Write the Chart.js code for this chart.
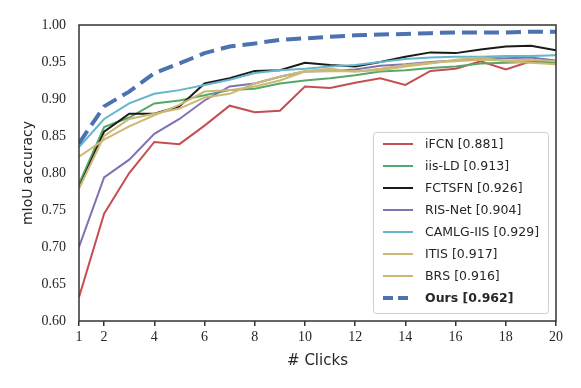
<!DOCTYPE html>
<html>
<head>
<meta charset="utf-8">
<script src="https://cdn.jsdelivr.net/npm/chart.js@4.4.0/dist/chart.umd.min.js"></script>
<style>
  html, body { margin: 0; padding: 0; background: #fff; }
</style>
</head>
<body>
<canvas id="chart" width="581" height="388"></canvas>
<script>
// data
const clicks = [1, 2, 3, 4, 5, 6, 7, 8, 9, 10, 11, 12, 13, 14, 15, 16, 17, 18, 19, 20];
const xTicks = [1, 2, 4, 6, 8, 10, 12, 14, 16, 18, 20];

const iFCN     = [0.632, 0.745, 0.800, 0.842, 0.839, 0.864, 0.891, 0.882, 0.884, 0.917, 0.915, 0.922, 0.928, 0.919, 0.938, 0.941, 0.951, 0.940, 0.951, 0.950];
const iisLD    = [0.785, 0.862, 0.875, 0.894, 0.898, 0.905, 0.912, 0.914, 0.921, 0.925, 0.928, 0.932, 0.937, 0.939, 0.942, 0.944, 0.948, 0.949, 0.950, 0.948];
const fctsfn   = [0.780, 0.856, 0.880, 0.880, 0.890, 0.921, 0.928, 0.938, 0.939, 0.949, 0.946, 0.944, 0.950, 0.957, 0.963, 0.962, 0.967, 0.971, 0.972, 0.966];
const risNet   = [0.700, 0.794, 0.818, 0.853, 0.873, 0.898, 0.917, 0.921, 0.930, 0.937, 0.938, 0.940, 0.945, 0.947, 0.950, 0.952, 0.955, 0.955, 0.956, 0.952];
const camlg    = [0.835, 0.873, 0.894, 0.907, 0.912, 0.919, 0.926, 0.935, 0.939, 0.941, 0.944, 0.946, 0.950, 0.954, 0.956, 0.957, 0.957, 0.958, 0.958, 0.959];
const itis     = [0.822, 0.845, 0.863, 0.878, 0.892, 0.910, 0.912, 0.917, 0.925, 0.937, 0.938, 0.937, 0.941, 0.946, 0.949, 0.951, 0.953, 0.952, 0.953, 0.951];
const brs      = [0.779, 0.850, 0.873, 0.880, 0.887, 0.902, 0.907, 0.921, 0.930, 0.938, 0.941, 0.937, 0.939, 0.944, 0.948, 0.953, 0.956, 0.951, 0.949, 0.947];
const ours     = [0.840, 0.890, 0.910, 0.935, 0.948, 0.962, 0.971, 0.975, 0.980, 0.982, 0.984, 0.986, 0.987, 0.988, 0.989, 0.990, 0.990, 0.990, 0.991, 0.991];

const names  = ['iFCN [0.881]', 'iis-LD [0.913]', 'FCTSFN [0.926]', 'RIS-Net [0.904]', 'CAMLG-IIS [0.929]', 'ITIS [0.917]', 'BRS [0.916]', 'Ours [0.962]'];
const series = [iFCN, iisLD, fctsfn, risNet, camlg, itis, brs, ours];
const colors = ['#C44E52', '#55A868', '#1a1a1a', '#8172B2', '#64B5CD', '#CCB974', '#CCB974', '#4C72B0'];

const datasets = series.map((vals, i) => {
  const isOurs = i === series.length - 1;
  return {
    label: names[i],
    data: vals.map((v, j) => ({ x: clicks[j], y: v })),
    borderColor: colors[i],
    backgroundColor: colors[i],
    borderWidth: isOurs ? 4 : 2,
    borderDash: isOurs ? [15, 7] : [],
    pointRadius: 0,
    tension: 0,
    fill: false,
    order: series.length - 1 - i,
  };
});

// box around the plot area
const frame = {
  id: 'frame',
  afterDraw(chart) {
    const { ctx, chartArea: a } = chart;
    ctx.save();
    ctx.strokeStyle = '#333';
    ctx.lineWidth = 1.5;
    ctx.strokeRect(a.left, a.top, a.right - a.left, a.bottom - a.top);
    ctx.restore();
  },
};

// legend inside the axes, lower right like matplotlib
const innerLegend = {
  id: 'innerLegend',
  afterDraw(chart) {
    const { ctx, chartArea: a } = chart;
    const rowH = 22;
    const w = 175, h = rowH * datasets.length + 5;
    const x = a.right - 8 - w, y = a.bottom - 8 - h;
    ctx.save();
    ctx.beginPath();
    ctx.roundRect(x + 0.5, y + 0.5, w, h, 3);
    ctx.fillStyle = 'rgba(255,255,255,0.85)';
    ctx.fill();
    ctx.strokeStyle = '#d0d0d0';
    ctx.lineWidth = 1;
    ctx.stroke();
    datasets.forEach((ds, i) => {
      const cy = y + 12 + i * rowH;
      ctx.beginPath();
      ctx.strokeStyle = ds.borderColor;
      ctx.lineWidth = ds.borderWidth;
      ctx.setLineDash(ds.borderDash.length ? [10, 5] : []);
      ctx.moveTo(x + 10, cy);
      ctx.lineTo(x + 40, cy);
      ctx.stroke();
      ctx.setLineDash([]);
      const bold = i === datasets.length - 1;
      ctx.font = (bold ? 'bold ' : '') + '12.5px "DejaVu Sans"';
      ctx.fillStyle = '#262626';
      ctx.textBaseline = 'middle';
      ctx.textAlign = 'left';
      ctx.fillText(ds.label, x + 52, cy + 1);
    });
    ctx.restore();
  },
};

new Chart(document.getElementById('chart'), {
  type: 'line',
  data: { datasets },
  plugins: [frame, innerLegend],
  options: {
    responsive: false,
    animation: false,
    layout: { padding: { top: 25, right: 25, left: 0, bottom: 0 } },
    plugins: { legend: { display: false }, tooltip: { enabled: false } },
    scales: {
      x: {
        type: 'linear',
        min: 1,
        max: 20,
        afterBuildTicks: (scale) => { scale.ticks = xTicks.map(v => ({ value: v })); },
        afterFit: (scale) => { scale.height = 67; },
        grid: { display: true, drawOnChartArea: false, drawTicks: true, tickLength: 5, color: '#333', lineWidth: 1.5 },
        border: { display: false },
        ticks: { padding: 3, color: '#262626', font: { family: '"Liberation Serif"', size: 14 } },
        title: { display: true, text: '# Clicks', color: '#262626', font: { family: '"DejaVu Sans"', size: 15 }, padding: { top: 0, bottom: 18 } },
      },
      y: {
        min: 0.60,
        max: 1.00,
        afterFit: (scale) => { scale.width = 79; },
        grid: { display: false, drawTicks: false },
        border: { display: false },
        ticks: {
          stepSize: 0.05,
          padding: 13,
          color: '#262626',
          font: { family: '"Liberation Serif"', size: 14 },
          callback: (v) => v.toFixed(2),
        },
        title: { display: true, text: 'mIoU accuracy', color: '#262626', font: { family: '"DejaVu Sans"', size: 14 }, padding: { top: 20, bottom: 0 } },
      },
    },
  },
});
</script>
</body>
</html>
